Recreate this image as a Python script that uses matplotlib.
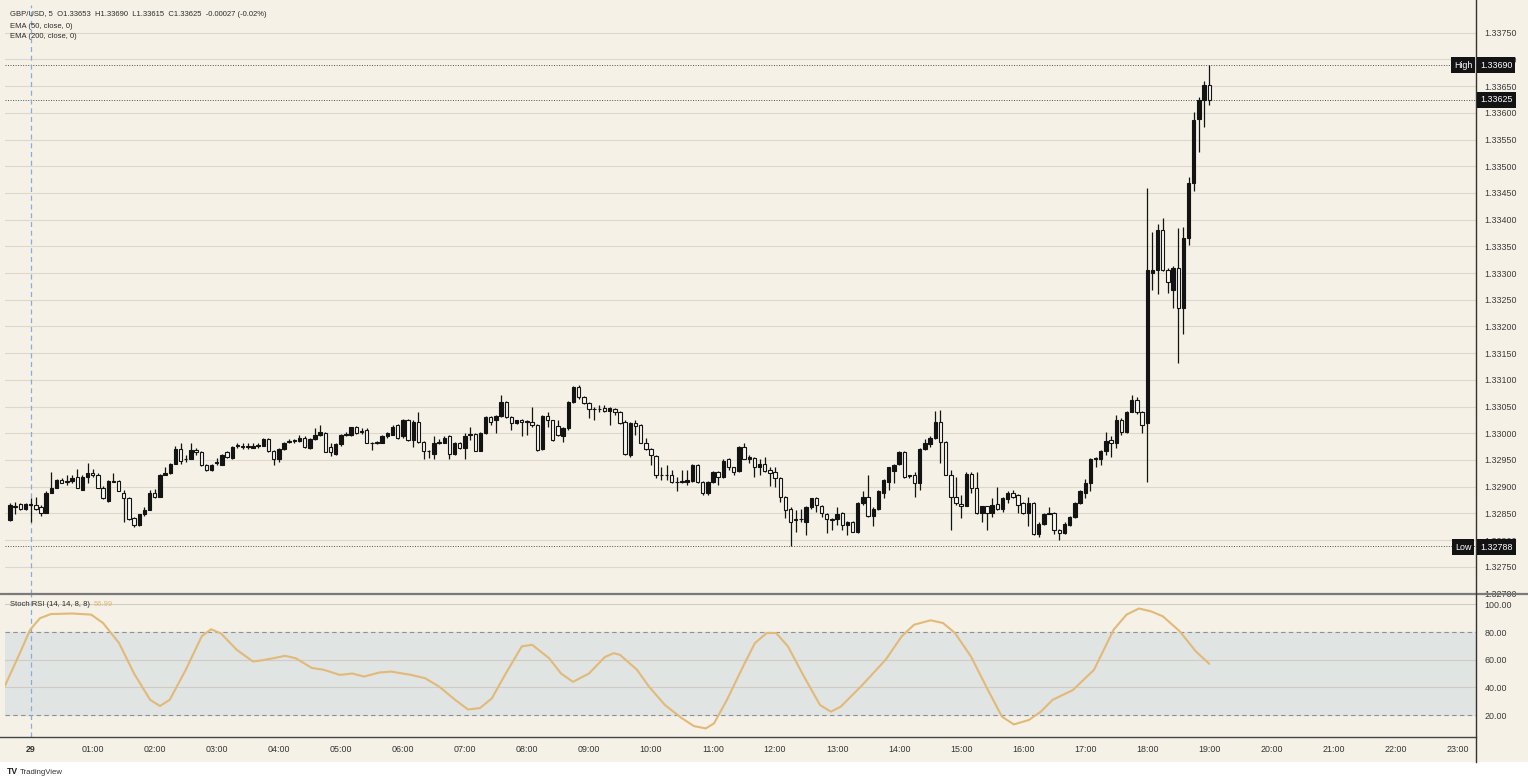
import numpy as np
import matplotlib.pyplot as plt
from matplotlib.lines import Line2D
from matplotlib.patches import Rectangle
from matplotlib.ticker import FormatStrFormatter

# GBP/USD 5-minute candles, 23:40 (28th) -> 19:00 (29th)
opens = [
    1.32838, 1.32864, 1.32868, 1.32859, 1.32866, 1.32866, 1.32861, 1.32851, 1.32889, 1.32898,
    1.32913, 1.32909, 1.32911, 1.32919, 1.32894, 1.32919, 1.32926, 1.32921, 1.32898, 1.32874,
    1.32911, 1.32911, 1.32889, 1.32879, 1.32842, 1.32829, 1.32848, 1.32857, 1.32889, 1.32881,
    1.32922, 1.32926, 1.32943, 1.32971, 1.32952, 1.32952, 1.32969, 1.32964, 1.32941, 1.32932,
    1.32945, 1.32941, 1.32964, 1.32954, 1.32977, 1.32977, 1.32975, 1.32973, 1.32977, 1.32977,
    1.32990, 1.32966, 1.32951, 1.32971, 1.32984, 1.32986, 1.32986, 1.32992, 1.32973, 1.32990,
    1.32997, 1.33001, 1.32975, 1.32962, 1.32979, 1.32997, 1.32996, 1.33011, 1.33005, 1.33007,
    1.32982, 1.32982, 1.32982, 1.32994, 1.32997, 1.33016, 1.32994, 1.33024, 1.32988, 1.33022,
    1.32984, 1.32966, 1.32962, 1.32982, 1.32982, 1.32994, 1.32962, 1.32982, 1.32973, 1.32997,
    1.32999, 1.32967, 1.33001, 1.33031, 1.33024, 1.33033, 1.33059, 1.33031, 1.33020, 1.33024,
    1.33022, 1.33022, 1.33016, 1.32971, 1.33033, 1.33024, 1.33014, 1.32994, 1.33009, 1.33059,
    1.33087, 1.33067, 1.33057, 1.33046, 1.33046, 1.33048, 1.33042, 1.33046, 1.33040, 1.33022,
    1.32960, 1.33020, 1.33016, 1.32982, 1.32971, 1.32958, 1.32922, 1.32922, 1.32922, 1.32909,
    1.32909, 1.32909, 1.32911, 1.32941, 1.32909, 1.32889, 1.32909, 1.32928, 1.32919, 1.32951,
    1.32936, 1.32930, 1.32975, 1.32951, 1.32954, 1.32937, 1.32943, 1.32932, 1.32928, 1.32917,
    1.32881, 1.32859, 1.32838, 1.32840, 1.32834, 1.32861, 1.32878, 1.32864, 1.32849, 1.32840,
    1.32840, 1.32851, 1.32829, 1.32834, 1.32816, 1.32870, 1.32881, 1.32846, 1.32859, 1.32889,
    1.32909, 1.32930, 1.32943, 1.32964, 1.32920, 1.32922, 1.32907, 1.32971, 1.32979, 1.32992,
    1.33022, 1.32984, 1.32922, 1.32881, 1.32868, 1.32863, 1.32924, 1.32898, 1.32851, 1.32863,
    1.32851, 1.32868, 1.32859, 1.32876, 1.32889, 1.32885, 1.32870, 1.32851, 1.32870, 1.32812,
    1.32831, 1.32849, 1.32851, 1.32819, 1.32814, 1.32829, 1.32844, 1.32870, 1.32889, 1.32907,
    1.32952, 1.32952, 1.32966, 1.32988, 1.32982, 1.33024, 1.33003, 1.33040, 1.33063, 1.33040,
    1.33020, 1.33301, 1.33306, 1.33381, 1.33306, 1.33269, 1.33310, 1.33235, 1.33366, 1.33469,
    1.33589, 1.33625, 1.33653,
]
highs = [
    1.32870, 1.32872, 1.32870, 1.32870, 1.32879, 1.32881, 1.32866, 1.32891, 1.32928, 1.32915,
    1.32917, 1.32921, 1.32921, 1.32934, 1.32921, 1.32945, 1.32934, 1.32926, 1.32902, 1.32913,
    1.32926, 1.32913, 1.32894, 1.32881, 1.32844, 1.32849, 1.32861, 1.32894, 1.32896, 1.32924,
    1.32937, 1.32945, 1.32977, 1.32982, 1.32960, 1.32982, 1.32973, 1.32966, 1.32943, 1.32943,
    1.32954, 1.32962, 1.32967, 1.32977, 1.32982, 1.32981, 1.32981, 1.32981, 1.32982, 1.32992,
    1.32992, 1.32969, 1.32973, 1.32984, 1.32990, 1.32990, 1.32996, 1.32994, 1.32992, 1.33009,
    1.33016, 1.33003, 1.32981, 1.32981, 1.32999, 1.33003, 1.33012, 1.33014, 1.33009, 1.33009,
    1.32984, 1.32986, 1.32996, 1.33003, 1.33016, 1.33018, 1.33027, 1.33027, 1.33025, 1.33040,
    1.32986, 1.32969, 1.32994, 1.32990, 1.32994, 1.32996, 1.32984, 1.32984, 1.33001, 1.33011,
    1.33001, 1.33003, 1.33033, 1.33033, 1.33035, 1.33072, 1.33061, 1.33033, 1.33025, 1.33027,
    1.33025, 1.33050, 1.33018, 1.33035, 1.33040, 1.33025, 1.33024, 1.33011, 1.33061, 1.33089,
    1.33091, 1.33069, 1.33059, 1.33050, 1.33052, 1.33052, 1.33050, 1.33048, 1.33042, 1.33024,
    1.33022, 1.33024, 1.33018, 1.32992, 1.32973, 1.32960, 1.32937, 1.32941, 1.32932, 1.32919,
    1.32932, 1.32932, 1.32943, 1.32943, 1.32911, 1.32911, 1.32930, 1.32930, 1.32951, 1.32954,
    1.32937, 1.32977, 1.32982, 1.32960, 1.32956, 1.32951, 1.32956, 1.32937, 1.32937, 1.32919,
    1.32883, 1.32861, 1.32857, 1.32859, 1.32863, 1.32879, 1.32881, 1.32866, 1.32851, 1.32842,
    1.32861, 1.32853, 1.32836, 1.32836, 1.32872, 1.32891, 1.32922, 1.32861, 1.32893, 1.32915,
    1.32937, 1.32943, 1.32966, 1.32966, 1.32922, 1.32928, 1.32973, 1.32990, 1.32994, 1.33042,
    1.33044, 1.32986, 1.32932, 1.32919, 1.32885, 1.32928, 1.32928, 1.32928, 1.32864, 1.32864,
    1.32879, 1.32900, 1.32881, 1.32891, 1.32894, 1.32887, 1.32872, 1.32881, 1.32872, 1.32833,
    1.32851, 1.32861, 1.32853, 1.32821, 1.32833, 1.32846, 1.32872, 1.32893, 1.32915, 1.32954,
    1.32956, 1.32969, 1.33003, 1.32994, 1.33035, 1.33029, 1.33042, 1.33072, 1.33067, 1.33042,
    1.33460, 1.33376, 1.33391, 1.33404, 1.33310, 1.33314, 1.33385, 1.33387, 1.33479, 1.33601,
    1.33629, 1.33660, 1.33690,
]
lows = [
    1.32836, 1.32848, 1.32857, 1.32857, 1.32833, 1.32857, 1.32846, 1.32851, 1.32889, 1.32898,
    1.32906, 1.32904, 1.32907, 1.32898, 1.32893, 1.32907, 1.32919, 1.32898, 1.32876, 1.32872,
    1.32909, 1.32891, 1.32833, 1.32838, 1.32825, 1.32827, 1.32846, 1.32857, 1.32879, 1.32881,
    1.32921, 1.32924, 1.32943, 1.32943, 1.32947, 1.32951, 1.32960, 1.32939, 1.32930, 1.32930,
    1.32941, 1.32941, 1.32954, 1.32952, 1.32973, 1.32971, 1.32971, 1.32973, 1.32973, 1.32977,
    1.32964, 1.32941, 1.32947, 1.32969, 1.32981, 1.32982, 1.32984, 1.32973, 1.32971, 1.32988,
    1.32994, 1.32964, 1.32958, 1.32960, 1.32977, 1.32994, 1.32994, 1.32999, 1.32999, 1.32981,
    1.32969, 1.32979, 1.32981, 1.32992, 1.32996, 1.32990, 1.32992, 1.32986, 1.32975, 1.32982,
    1.32951, 1.32954, 1.32951, 1.32979, 1.32981, 1.32951, 1.32960, 1.32971, 1.32951, 1.32988,
    1.32966, 1.32966, 1.32999, 1.33016, 1.33001, 1.33031, 1.33029, 1.33007, 1.33018, 1.32994,
    1.32997, 1.33012, 1.32967, 1.32969, 1.33012, 1.32986, 1.32994, 1.32984, 1.33007, 1.33057,
    1.33065, 1.33055, 1.33029, 1.33025, 1.33040, 1.33040, 1.33016, 1.33035, 1.33018, 1.32960,
    1.32956, 1.32996, 1.32981, 1.32969, 1.32941, 1.32917, 1.32913, 1.32913, 1.32907, 1.32891,
    1.32906, 1.32904, 1.32909, 1.32907, 1.32885, 1.32885, 1.32907, 1.32904, 1.32917, 1.32932,
    1.32922, 1.32928, 1.32951, 1.32945, 1.32919, 1.32921, 1.32928, 1.32902, 1.32900, 1.32872,
    1.32842, 1.32788, 1.32816, 1.32834, 1.32810, 1.32859, 1.32853, 1.32844, 1.32814, 1.32819,
    1.32829, 1.32819, 1.32810, 1.32816, 1.32814, 1.32866, 1.32844, 1.32827, 1.32857, 1.32878,
    1.32893, 1.32907, 1.32941, 1.32917, 1.32917, 1.32881, 1.32894, 1.32969, 1.32975, 1.32990,
    1.32945, 1.32921, 1.32819, 1.32866, 1.32842, 1.32863, 1.32889, 1.32849, 1.32834, 1.32819,
    1.32844, 1.32857, 1.32853, 1.32870, 1.32879, 1.32851, 1.32849, 1.32827, 1.32810, 1.32806,
    1.32829, 1.32848, 1.32812, 1.32801, 1.32812, 1.32827, 1.32842, 1.32868, 1.32879, 1.32891,
    1.32936, 1.32941, 1.32960, 1.32956, 1.32973, 1.32997, 1.33001, 1.33039, 1.33037, 1.33001,
    1.32909, 1.33269, 1.33260, 1.33303, 1.33263, 1.33235, 1.33132, 1.33185, 1.33353, 1.33453,
    1.33527, 1.33574, 1.33615,
]
closes = [
    1.32866, 1.32861, 1.32859, 1.32868, 1.32866, 1.32859, 1.32851, 1.32889, 1.32898, 1.32913,
    1.32907, 1.32911, 1.32917, 1.32898, 1.32919, 1.32926, 1.32922, 1.32898, 1.32878, 1.32911,
    1.32909, 1.32891, 1.32879, 1.32840, 1.32829, 1.32848, 1.32857, 1.32889, 1.32881, 1.32922,
    1.32926, 1.32943, 1.32971, 1.32949, 1.32951, 1.32969, 1.32964, 1.32941, 1.32932, 1.32941,
    1.32947, 1.32960, 1.32956, 1.32975, 1.32977, 1.32975, 1.32975, 1.32977, 1.32977, 1.32990,
    1.32966, 1.32951, 1.32971, 1.32982, 1.32984, 1.32986, 1.32992, 1.32975, 1.32990, 1.32997,
    1.33003, 1.32964, 1.32964, 1.32979, 1.32997, 1.32999, 1.33011, 1.33001, 1.33003, 1.32982,
    1.32981, 1.32982, 1.32994, 1.33001, 1.33012, 1.32992, 1.33025, 1.32988, 1.33022, 1.32984,
    1.32966, 1.32966, 1.32982, 1.32984, 1.32992, 1.32962, 1.32982, 1.32973, 1.32994, 1.32999,
    1.32967, 1.33001, 1.33031, 1.33022, 1.33033, 1.33059, 1.33031, 1.33020, 1.33024, 1.33022,
    1.33021, 1.33016, 1.32969, 1.33033, 1.33024, 1.32988, 1.32996, 1.33009, 1.33059, 1.33087,
    1.33067, 1.33057, 1.33046, 1.33045, 1.33045, 1.33042, 1.33048, 1.33040, 1.33020, 1.32962,
    1.33020, 1.33014, 1.32982, 1.32971, 1.32960, 1.32922, 1.32921, 1.32921, 1.32909, 1.32908,
    1.32910, 1.32913, 1.32941, 1.32909, 1.32889, 1.32909, 1.32928, 1.32919, 1.32949, 1.32936,
    1.32928, 1.32975, 1.32952, 1.32956, 1.32936, 1.32943, 1.32930, 1.32926, 1.32917, 1.32881,
    1.32857, 1.32833, 1.32840, 1.32839, 1.32861, 1.32878, 1.32866, 1.32851, 1.32840, 1.32838,
    1.32849, 1.32829, 1.32834, 1.32816, 1.32870, 1.32881, 1.32846, 1.32859, 1.32891, 1.32913,
    1.32936, 1.32941, 1.32964, 1.32919, 1.32921, 1.32907, 1.32971, 1.32982, 1.32992, 1.33022,
    1.32984, 1.32922, 1.32881, 1.32870, 1.32863, 1.32924, 1.32898, 1.32851, 1.32863, 1.32851,
    1.32866, 1.32859, 1.32879, 1.32889, 1.32881, 1.32866, 1.32851, 1.32870, 1.32812, 1.32831,
    1.32849, 1.32851, 1.32819, 1.32814, 1.32831, 1.32844, 1.32870, 1.32891, 1.32907, 1.32952,
    1.32953, 1.32967, 1.32986, 1.32982, 1.33024, 1.33003, 1.33040, 1.33063, 1.33039, 1.33016,
    1.33306, 1.33306, 1.33381, 1.33306, 1.33284, 1.33310, 1.33235, 1.33366, 1.33469, 1.33587,
    1.33625, 1.33653, 1.33625,
]

# Stoch RSI (14, 14, 8, 8): candle index, value
stoch_idx = [
    -1.0, 1.9, 3.9, 5.8, 7.9, 12.0, 15.7, 18.0, 21.1, 24.0, 27.1, 29.0, 30.9, 34.0, 37.1,
    38.9, 40.8, 43.9, 47.0, 48.5, 50.9, 53.2, 55.3, 58.4, 60.7, 63.8, 66.2, 68.5, 71.4,
    73.7, 77.6, 80.3, 83.0, 86.1, 88.6, 90.9, 93.2, 95.9, 99.0, 101.0, 104.3, 106.6,
    108.9, 112.0, 115.1, 116.8, 118.0, 121.3, 123.6, 126.7, 130.0, 132.3, 134.6, 136.2,
    138.7, 141.8, 144.1, 146.4, 148.2, 150.5, 153.6, 156.7, 158.8, 160.7, 164.6, 169.4,
    172.5, 174.9, 178.1, 180.5, 182.8, 185.9, 189.2, 191.9, 194.2, 197.1, 199.4, 201.7,
    205.6, 209.7, 213.5, 216.0, 218.4, 220.7, 223.0, 226.3, 229.4, 232.0,
]
stoch_val = [
    41.0, 64.7, 81.7, 90.0, 93.0, 93.4, 92.6, 86.5, 72.0, 50.0, 31.0, 26.5, 31.0, 52.7, 77.0,
    82.0, 79.0, 67.0, 58.7, 59.4, 61.0, 62.8, 61.0, 54.0, 52.7, 49.0, 50.0, 47.8, 50.7,
    51.4, 49.0, 46.6, 40.6, 31.0, 24.0, 25.0, 32.0, 50.0, 69.6, 70.8, 61.0, 50.0,
    44.0, 50.0, 62.0, 64.7, 63.5, 52.7, 40.6, 27.2, 17.6, 12.0, 10.3, 14.0,
    31.0, 55.0, 72.0, 79.3, 79.3, 69.6, 47.8, 27.2, 22.4, 26.0, 40.6, 60.0,
    76.9, 85.3, 88.5, 86.5, 79.3, 62.3, 38.0, 18.8, 13.2, 16.4, 22.4, 31.0,
    38.0, 52.7, 81.7, 92.6, 97.0, 95.0, 91.4, 80.5, 66.0, 56.99,
]

# time axis: first candle is 23:40, so midnight is index 4
time_pos = [4 + 12 * h for h in range(24)]
time_labels = ["29"] + [f"{h:02d}:00" for h in range(1, 24)]

price_ticks = [1.32700, 1.32750, 1.32800, 1.32850, 1.32900, 1.32950, 1.33000, 1.33050,
               1.33100, 1.33150, 1.33200, 1.33250, 1.33300, 1.33350, 1.33400, 1.33450,
               1.33500, 1.33550, 1.33600, 1.33650, 1.33700, 1.33750]
stoch_ticks = [20, 40, 60, 80, 100]

day_high = 1.33690
day_low = 1.32788
last_close = 1.33625

plt.rcParams['font.family'] = ['Liberation Sans', 'DejaVu Sans']

W, H = 1528, 784
bg = '#f5f1e6'
grid_c = '#ddd8cb'
ink = '#131313'
stoch_c = '#e2b978'


def fx(px):
    return px / W


def fy(py):
    return 1 - py / H


fig = plt.figure(figsize=(W / 100, H / 100), dpi=100)
fig.patch.set_facecolor('white')
fig.patches.append(Rectangle((0, fy(762)), 1, 1 - fy(762), transform=fig.transFigure,
                             facecolor=bg, edgecolor='none', zorder=-5))

ax = fig.add_axes([fx(5), fy(594), fx(1476) - fx(5), fy(5) - fy(594)])
sx = fig.add_axes([fx(5), fy(737), fx(1476) - fx(5), fy(594) - fy(737)])
for a in (ax, sx):
    a.set_facecolor(bg)
    for s in a.spines.values():
        s.set_visible(False)
    a.set_xlim(-0.97, 283.6)

# candles (black = up, hollow = down)
idx = np.arange(len(closes))
o = np.array(opens)
c = np.array(closes)
up = c >= o
ax.vlines(idx, lows, highs, color=ink, lw=0.9, zorder=3)
body_lo = np.minimum(o, c)
body_h = np.maximum(np.abs(c - o), 0.000012)
ax.bar(idx, body_h, bottom=body_lo, width=0.66,
       color=np.where(up, ink, '#faf8f2'), edgecolor=ink, linewidth=0.8, zorder=4)

ax.set_ylim(1.32699, 1.33802)
ax.set_yticks(price_ticks)
ax.yaxis.set_major_formatter(FormatStrFormatter('%.5f'))
ax.grid(axis='y', color=grid_c, lw=0.8, zorder=0)
ax.tick_params(axis='y', left=False, labelleft=False, right=True, labelright=True,
               length=0, pad=6, labelsize=6.4, labelcolor='#3a3a3a')
ax.tick_params(axis='x', bottom=False, labelbottom=False)

dots = (0, (1, 1.6))
for lvl in (day_high, last_close, day_low):
    ax.axhline(lvl, color='#505050', lw=0.7, ls=dots, zorder=2)

# lower pane
sx.set_ylim(4.1, 107.5)
sx.axhspan(20, 80, color='#e0e4e2', zorder=0)
for lvl in (100, 60, 40):
    sx.axhline(lvl, color='#cfcdc3', lw=0.8, zorder=1)
for lvl in (80, 20):
    sx.axhline(lvl, color='#8e9092', lw=0.8, ls=(0, (4, 3)), zorder=1)
sx.plot(stoch_idx, stoch_val, color=stoch_c, lw=1.5, zorder=3,
        solid_capstyle='round', solid_joinstyle='round')
sx.set_yticks(stoch_ticks)
sx.yaxis.set_major_formatter(FormatStrFormatter('%.2f'))
sx.tick_params(axis='y', left=False, labelleft=False, right=True, labelright=True,
               length=0, pad=6, labelsize=6.4, labelcolor='#3a3a3a')
sx.set_xticks(time_pos)
sx.set_xticklabels(time_labels)
sx.tick_params(axis='x', length=0, pad=6, labelsize=6.4, labelcolor='#333333')
sx.get_xticklabels()[0].set_fontweight('bold')

# day separator
for a in (ax, sx):
    a.axvline(4, color='#84aee0', lw=0.9, ls=(0, (4, 3)), zorder=2)

# frame lines
fig.add_artist(Line2D([0, 1], [fy(594), fy(594)], color='#7a7a7a', lw=1.6))
fig.add_artist(Line2D([0, fx(1476)], [fy(737), fy(737)], color='#444444', lw=1.0))
fig.add_artist(Line2D([fx(1476), fx(1476)], [fy(762), 1], color='#333333', lw=1.0))

# header
hdr = dict(fontsize=5.5, color='#2c2c2c', va='center')
fig.text(fx(10), fy(15), 'GBP/USD, 5  O1.33653  H1.33690  L1.33615  C1.33625  -0.00027 (-0.02%)', **hdr)
fig.text(fx(10), fy(26), 'EMA (50, close, 0)', **hdr)
fig.text(fx(10), fy(37), 'EMA (200, close, 0)', **hdr)
st = fig.text(fx(10), fy(605), 'Stoch RSI (14, 14, 8, 8)', **hdr)
fig.canvas.draw()
st_end = st.get_window_extent().x1 / W
fig.text(st_end + fx(4), fy(605), '56.99', fontsize=5.5, color=stoch_c, va='center')

# price markers on the scale
box = dict(boxstyle='square,pad=0.34', fc=ink, ec='none')
tag = dict(color='white', fontsize=6.4, va='center', bbox=box, zorder=10)
fig.text(fx(1463), fy(65), 'High', ha='center', **tag)
fig.text(fx(1480), fy(65), '1.33690', ha='left', **tag)
fig.text(fx(1480), fy(100), '1.33625', ha='left', **tag)
fig.text(fx(1463), fy(547), 'Low', ha='center', **tag)
fig.text(fx(1480), fy(547), '1.32788', ha='left', **tag)

# footer logo
fig.text(fx(7), fy(772), 'TV', fontsize=6.2, fontweight='bold', color='#222222', va='center')
fig.text(fx(20), fy(772), 'TradingView', fontsize=5.6, color='#333333', va='center')

fig.savefig('out.png', dpi=100, facecolor=fig.get_facecolor())
